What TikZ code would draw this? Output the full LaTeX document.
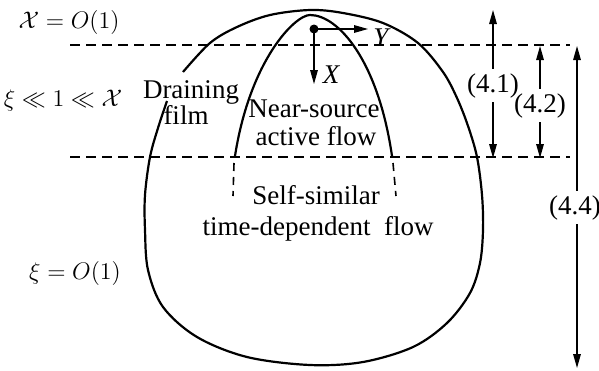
\documentclass[tikz,border=0pt]{standalone}
\usepackage{fontspec}
\setmainfont{Liberation Serif}
\usetikzlibrary{arrows.meta}
\begin{document}
\begin{tikzpicture}[x=0.5pt,y=-0.5pt,
  every node/.style={font=\fontsize{13.5}{15}\selectfont, inner sep=1pt},
  txt/.style={anchor=base},
  mathlab/.style={anchor=base, font=\fontsize{12.5}{14}\selectfont},
  bound/.style={line width=1.1pt, line join=round},
  hdash/.style={line width=0.6pt, dash pattern=on 5pt off 3pt},
  arr/.style={line width=0.6pt, -{Triangle[length=7pt,width=3.8pt]}},
  dimlab/.style={anchor=base, inner sep=2pt}]
\useasboundingbox (0,0) rectangle (599,370);

% horizontal dashed levels
\coordinate (h1a) at (70,45);  \coordinate (h1b) at (570,45);
\coordinate (h2a) at (70,157); \coordinate (h2b) at (570,157);
\draw[hdash] (h1a) -- (h1b);
\draw[hdash] (h2a) -- (h2b);

% outer boundary (gap at the label "Draining film")
\draw[bound] plot[smooth, tension=0.55] coordinates {
  (167,101) (158,128) (150,157) (145,195) (145,230) (148,270) (163,307) (197,337) (247,357)
  (310,365) (363,362) (413,347) (447,323) (470,293) (480,263) (483,230) (482,195) (477,157)
  (468,126) (457,98) (443,72) (418,43) (383,23) (343,13) (310,10) (270,15) (237,27) (210,43) (183,72)};

% inner near-source region
\coordinate (il) at (235,156); \coordinate (itop) at (310,15); \coordinate (ir) at (392,156);
\draw[bound] (il) .. controls (250,60) and (295,15) .. (itop)
             .. controls (338,15) and (378,60) .. (ir);
\coordinate (dl1) at (234,163); \coordinate (dl2) at (233,196);
\coordinate (dr1) at (393,163); \coordinate (dr2) at (396,196);
\draw[bound, line width=0.8pt, dash pattern=on 4pt off 3pt] (dl1) -- (dl2);
\draw[bound, line width=0.8pt, dash pattern=on 4pt off 3pt] (dr1) -- (dr2);

% local axes
\node[circle, fill, inner sep=0pt, minimum size=4.5pt] (o) at (314,29) {};
\coordinate (ytip) at (368,29);
\coordinate (xtip) at (314,84);
\draw[arr] (o.center) -- (ytip);
\draw[arr] (o.center) -- (xtip);
\node[txt] (ylab) at (381,46) {\itshape Y};
\node[txt] (xlab) at (331,83) {\itshape X};

% region labels
\node[txt] (dr) at (191,98) {Draining};
\node[txt] (fi) at (186,124) {film};
\node[txt] (ns) at (314,117) {Near-source};
\node[txt] (af) at (316,145) {active flow};
\node[txt] (ss) at (316,204) {Self-similar};
\node[txt] (td) at (318,235) {time-dependent\ \ flow};

% left scale labels
\node[mathlab] (l1) at (69,28) {$\mathcal{X} = O(1)$};
\node[mathlab] (l2) at (63,106) {$\xi \ll 1 \ll \mathcal{X}$};
\node[mathlab] (l3) at (75,279) {$\xi = O(1)$};

% dimension arrows
\node[dimlab] (d41) at (493,92) {(4.1)};
\coordinate (t41) at (493,10); \coordinate (b41) at (493,158);
\draw[arr] (d41) -- (t41);
\draw[arr] (d41) -- (b41);
\node[dimlab] (d42) at (540,112) {(4.2)};
\coordinate (t42) at (540,46); \coordinate (b42) at (540,158);
\draw[arr] (d42) -- (t42);
\draw[arr] (d42) -- (b42);
\node[dimlab] (d44) at (575,214) {(4.4)};
\coordinate (t44) at (577,46); \coordinate (b44) at (577,368);
\draw[arr] (d44.north -| t44) -- (t44);
\draw[arr] (d44.south -| b44) -- (b44);
\end{tikzpicture}
\end{document}
